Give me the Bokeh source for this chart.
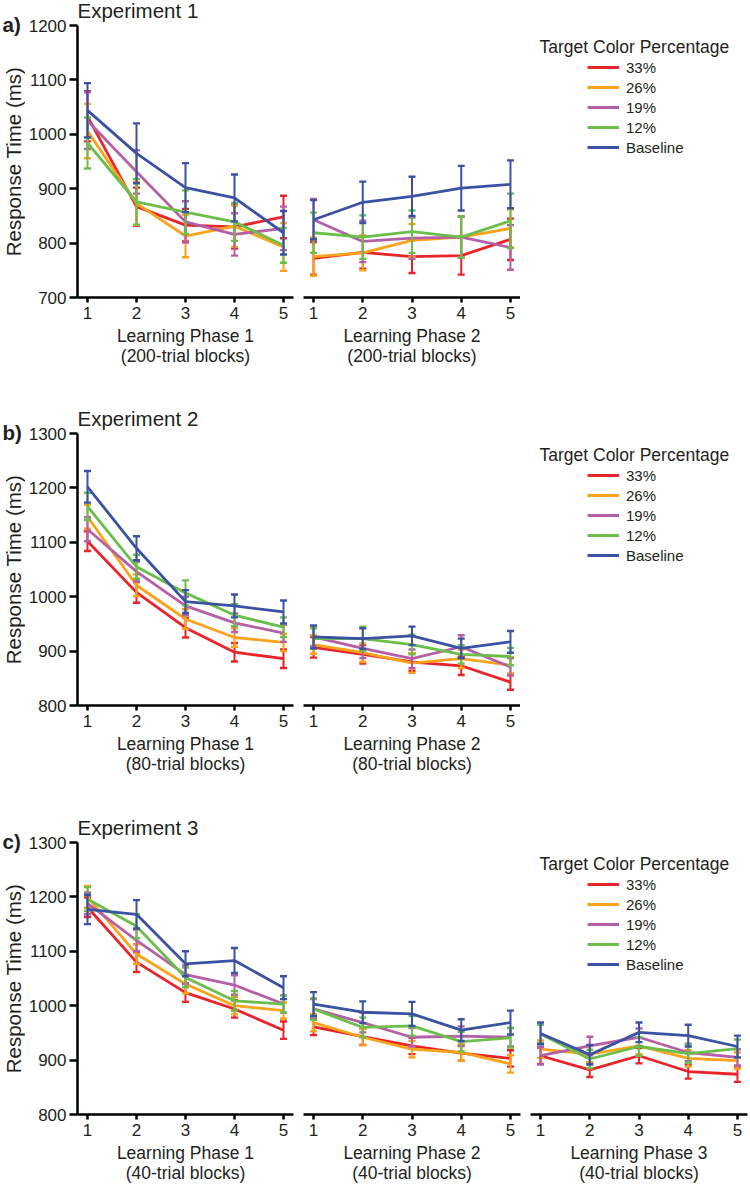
from bokeh.plotting import figure
from bokeh.models import ColumnDataSource, Range1d, Label, Legend, LegendItem, FixedTicker
from bokeh.layouts import row, column
from bokeh.embed import file_html
from bokeh.resources import INLINE

FONT = "Liberation Sans"
TXT = "#231f20"

BLOCKS = [1, 2, 3, 4, 5]
SERIES = ["33%", "26%", "19%", "12%", "Baseline"]
COLORS = ["#e8232a", "#f9a31b", "#b45fa6", "#6bbe4a", "#3b52a3"]
LEGEND_TITLE = "Target Color Percentage"
Y_LABEL = "Response Time (ms)"

# ---- Experiment 1 : Learning Phase 1 (means, ms) ----
E1_P1_33 = [1033, 867, 833, 830, 848]
E1_P1_26 = [1006, 873, 813, 831, 793]
E1_P1_19 = [1025, 931, 839, 816, 827]
E1_P1_12 = [984, 876, 857, 839, 796]
E1_P1_BL = [1044, 965, 902, 883, 819]
# standard errors
E1_P1_33_SE = [46, 35, 30, 40, 39]
E1_P1_26_SE = [50, 40, 39, 38, 44]
E1_P1_19_SE = [52, 40, 38, 39, 40]
E1_P1_12_SE = [47, 42, 40, 35, 32]
E1_P1_BL_SE = [50, 55, 45, 43, 40]

# ---- Experiment 1 : Learning Phase 2 ----
E1_P2_33 = [772, 783, 775, 777, 807]
E1_P2_26 = [775, 782, 805, 811, 827]
E1_P2_19 = [843, 803, 809, 811, 792]
E1_P2_12 = [819, 811, 821, 811, 841]
E1_P2_BL = [843, 875, 886, 901, 908]
E1_P2_33_SE = [30, 30, 30, 35, 38]
E1_P2_26_SE = [35, 32, 30, 38, 35]
E1_P2_19_SE = [38, 38, 38, 38, 41]
E1_P2_12_SE = [37, 40, 39, 38, 50]
E1_P2_BL_SE = [36, 38, 36, 41, 44]

# ---- Experiment 2 : Learning Phase 1 ----
E2_P1_33 = [1102, 1008, 943, 898, 886]
E2_P1_26 = [1147, 1021, 959, 925, 916]
E2_P1_19 = [1124, 1046, 983, 952, 933]
E2_P1_12 = [1166, 1055, 1007, 966, 944]
E2_P1_BL = [1202, 1089, 991, 983, 972]
E2_P1_33_SE = [18, 19, 18, 17, 17]
E2_P1_26_SE = [22, 20, 18, 17, 16]
E2_P1_19_SE = [22, 18, 17, 17, 16]
E2_P1_12_SE = [25, 22, 23, 20, 18]
E2_P1_BL_SE = [29, 22, 21, 21, 21]

# ---- Experiment 2 : Learning Phase 2 ----
E2_P2_33 = [907, 894, 880, 873, 843]
E2_P2_26 = [912, 897, 878, 886, 874]
E2_P2_19 = [926, 905, 886, 908, 871]
E2_P2_12 = [923, 923, 912, 894, 890]
E2_P2_BL = [926, 923, 928, 905, 917]
E2_P2_33_SE = [19, 17, 16, 17, 14]
E2_P2_26_SE = [17, 17, 18, 17, 15]
E2_P2_19_SE = [17, 18, 17, 21, 16]
E2_P2_12_SE = [19, 22, 18, 17, 16]
E2_P2_BL_SE = [21, 19, 17, 18, 20]

# ---- Experiment 3 : Learning Phase 1 ----
E3_P1_33 = [1181, 1080, 1024, 994, 955]
E3_P1_26 = [1200, 1095, 1040, 1000, 991]
E3_P1_19 = [1188, 1120, 1057, 1038, 1003]
E3_P1_12 = [1196, 1146, 1052, 1009, 1003]
E3_P1_BL = [1177, 1168, 1077, 1083, 1033]
E3_P1_33_SE = [18, 18, 17, 16, 16]
E3_P1_26_SE = [20, 18, 17, 16, 15]
E3_P1_19_SE = [20, 20, 17, 18, 16]
E3_P1_12_SE = [22, 22, 18, 18, 16]
E3_P1_BL_SE = [27, 26, 23, 23, 21]

# ---- Experiment 3 : Learning Phase 2 ----
E3_P2_33 = [961, 943, 926, 913, 903]
E3_P2_26 = [969, 942, 920, 914, 893]
E3_P2_19 = [994, 969, 942, 944, 942]
E3_P2_12 = [994, 960, 963, 934, 941]
E3_P2_BL = [1003, 988, 985, 955, 969]
E3_P2_33_SE = [15, 15, 15, 14, 15]
E3_P2_26_SE = [16, 15, 15, 15, 16]
E3_P2_19_SE = [18, 18, 17, 18, 17]
E3_P2_12_SE = [20, 18, 18, 18, 18]
E3_P2_BL_SE = [22, 20, 22, 20, 22]

# ---- Experiment 3 : Learning Phase 3 ----
E3_P3_33 = [908, 882, 908, 879, 874]
E3_P3_26 = [920, 911, 926, 903, 899]
E3_P3_19 = [908, 926, 942, 914, 905]
E3_P3_12 = [948, 902, 925, 912, 921]
E3_P3_BL = [949, 910, 951, 945, 925]
E3_P3_33_SE = [15, 13, 14, 13, 14]
E3_P3_26_SE = [16, 15, 15, 15, 15]
E3_P3_19_SE = [16, 17, 16, 16, 15]
E3_P3_12_SE = [17, 17, 17, 17, 17]
E3_P3_BL_SE = [20, 18, 18, 20, 20]

X0, X1 = 0.796, 5.204
TOP = 25                 # header band (titles) inside every frame
FRAME_H = 272            # height of the 500-ms data band
FULL_H = TOP + FRAME_H   # frame height of every plot in a row
STRIP_W = 25
LINE_W = 2.8


def add_series(p, means, ses, color):
    lower = [m - s for m, s in zip(means, ses)]
    upper = [m + s for m, s in zip(means, ses)]
    src = ColumnDataSource(dict(x=BLOCKS, y=means, lower=lower, upper=upper))
    p.segment(x0="x", y0="lower", x1="x", y1="upper", source=src,
              line_color=color, line_width=2)
    p.scatter(x="x", y="upper", source=src, marker="dash", size=7,
              line_color=color, line_width=2.4)
    p.scatter(x="x", y="lower", source=src, marker="dash", size=7,
              line_color=color, line_width=2.4)
    return p.line(x="x", y="y", source=src, line_color=color, line_width=LINE_W)


def bare(p):
    p.title = None
    p.xgrid.visible = False
    p.ygrid.visible = False
    p.outline_line_color = None


def make_panel(width, height, ylo, yhi, left, right, bottom, means, ses, xlabel,
               show_y, title=None):
    ppy = FRAME_H / (yhi - ylo)
    p = figure(width=width, height=height, x_range=Range1d(X0, X1),
               y_range=Range1d(ylo, yhi + TOP / ppy), output_backend="svg",
               toolbar_location=None, min_border_left=left,
               min_border_right=right, min_border_top=0,
               min_border_bottom=bottom,
               y_axis_location="left" if show_y else None)
    bare(p)
    xa = p.xaxis[0]
    xa.ticker = FixedTicker(ticks=BLOCKS)
    xa.minor_tick_line_color = None
    xa.major_tick_in = 0
    xa.major_tick_out = 5
    xa.major_tick_line_width = 2.5
    xa.axis_line_width = 2.5
    xa.axis_line_color = "black"
    xa.major_tick_line_color = "black"
    xa.major_label_text_font = FONT
    xa.major_label_text_font_size = "17px"
    xa.major_label_text_color = TXT
    xa.major_label_standoff = 4
    xa.axis_label = xlabel
    xa.axis_label_text_font = FONT
    xa.axis_label_text_font_size = "17.5px"
    xa.axis_label_text_font_style = "normal"
    xa.axis_label_text_color = TXT
    xa.axis_label_standoff = 4
    xa.axis_label_text_line_height = 1.0
    if show_y:
        ya = p.yaxis[0]
        ya.bounds = (ylo, yhi)
        ya.ticker = FixedTicker(ticks=list(range(ylo, yhi + 1, 100)))
        ya.minor_tick_line_color = None
        ya.major_tick_in = 0
        ya.major_tick_out = 8
        ya.major_tick_line_width = 2.5
        ya.axis_line_width = 2.5
        ya.axis_line_color = "black"
        ya.major_tick_line_color = "black"
        ya.major_label_text_font = FONT
        ya.major_label_text_font_size = "17px"
        ya.major_label_text_color = TXT
        ya.major_label_standoff = 3
    if title:
        p.add_layout(Label(x=X0, y=yhi + 15 / ppy, text=title, text_font=FONT,
                           text_font_size="20.5px", text_color=TXT,
                           text_align="left", text_baseline="middle"))
    renderers = []
    for m, s, c in zip(means, ses, COLORS):
        renderers.append(add_series(p, m, s, c))
    return p, renderers


def strip_figure(height, bottom, tag):
    """Narrow column holding the panel letter and the y-axis title."""
    p = figure(width=STRIP_W, height=height, x_range=Range1d(0, STRIP_W),
               y_range=Range1d(FULL_H, 0), output_backend="svg",
               toolbar_location=None, min_border_left=0, min_border_right=0,
               min_border_top=0, min_border_bottom=bottom,
               x_axis_location=None, y_axis_location=None)
    bare(p)
    p.add_layout(Label(x=2, y=24, text=tag, text_font=FONT,
                       text_font_size="20.5px", text_font_style="bold",
                       text_color=TXT, text_align="left", text_baseline="middle"))
    p.add_layout(Label(x=12.5, y=TOP + FRAME_H / 2, text=Y_LABEL,
                       angle=90, angle_units="deg", text_font=FONT,
                       text_font_size="20.5px", text_color=TXT,
                       text_align="center", text_baseline="middle"))
    return p


def make_legend(p, renderers, gx, title_x, title_y):
    items = [LegendItem(label=s, renderers=[r]) for s, r in zip(SERIES, renderers)]
    leg = Legend(items=items, location=(gx, FULL_H - (TOP + 32 + 100)), padding=0,
                 margin=0, spacing=0, glyph_width=32, glyph_height=20,
                 label_height=20, label_standoff=7, label_text_font=FONT,
                 label_text_font_size="15px", label_text_color=TXT,
                 border_line_color=None, background_fill_alpha=0)
    p.add_layout(leg)
    p.add_layout(Label(x=title_x, y=title_y, text=LEGEND_TITLE, text_font=FONT,
                       text_font_size="17.5px", text_color=TXT,
                       text_align="left", text_baseline="middle"))


def legend_figure(height, bottom):
    p = figure(width=230, height=height, x_range=Range1d(0, 230),
               y_range=Range1d(FULL_H, 0), output_backend="svg",
               toolbar_location=None, min_border_left=0, min_border_right=0,
               min_border_top=0, min_border_bottom=bottom,
               x_axis_location=None, y_axis_location=None)
    bare(p)
    rs = []
    for c in COLORS:
        # key-only renderers: a single missing point, so nothing is drawn in the frame
        src = ColumnDataSource(dict(x=[float("nan")], y=[float("nan")]))
        rs.append(p.line(x="x", y="y", source=src, line_color=c, line_width=LINE_W))
    make_legend(p, rs, 67, 19, TOP + 21)
    return p


A_W = 303 - STRIP_W
A_L = 77 - STRIP_W

# ---------------- Row 1 ----------------
H1, B1 = 408, 111
s1 = strip_figure(H1, B1, "a)")
a1, _ = make_panel(A_W, H1, 700, 1200, A_L, 10, B1,
                   [E1_P1_33, E1_P1_26, E1_P1_19, E1_P1_12, E1_P1_BL],
                   [E1_P1_33_SE, E1_P1_26_SE, E1_P1_19_SE, E1_P1_12_SE, E1_P1_BL_SE],
                   "Learning Phase 1\n(200-trial blocks)", True, "Experiment 1")
b1, _ = make_panel(217, H1, 700, 1200, 0, 0, B1,
                   [E1_P2_33, E1_P2_26, E1_P2_19, E1_P2_12, E1_P2_BL],
                   [E1_P2_33_SE, E1_P2_26_SE, E1_P2_19_SE, E1_P2_12_SE, E1_P2_BL_SE],
                   "Learning Phase 2\n(200-trial blocks)", False)
l1 = legend_figure(H1, B1)

# ---------------- Row 2 ----------------
H2, B2 = 409, 112
s2 = strip_figure(H2, B2, "b)")
a2, _ = make_panel(A_W, H2, 800, 1300, A_L, 10, B2,
                   [E2_P1_33, E2_P1_26, E2_P1_19, E2_P1_12, E2_P1_BL],
                   [E2_P1_33_SE, E2_P1_26_SE, E2_P1_19_SE, E2_P1_12_SE, E2_P1_BL_SE],
                   "Learning Phase 1\n(80-trial blocks)", True, "Experiment 2")
b2, _ = make_panel(217, H2, 800, 1300, 0, 0, B2,
                   [E2_P2_33, E2_P2_26, E2_P2_19, E2_P2_12, E2_P2_BL],
                   [E2_P2_33_SE, E2_P2_26_SE, E2_P2_19_SE, E2_P2_12_SE, E2_P2_BL_SE],
                   "Learning Phase 2\n(80-trial blocks)", False)
l2 = legend_figure(H2, B2)

# ---------------- Row 3 ----------------
H3, B3 = 369, 72
s3 = strip_figure(H3, B3, "c)")
a3, _ = make_panel(A_W, H3, 800, 1300, A_L, 10, B3,
                   [E3_P1_33, E3_P1_26, E3_P1_19, E3_P1_12, E3_P1_BL],
                   [E3_P1_33_SE, E3_P1_26_SE, E3_P1_19_SE, E3_P1_12_SE, E3_P1_BL_SE],
                   "Learning Phase 1\n(40-trial blocks)", True, "Experiment 3")
b3, _ = make_panel(227, H3, 800, 1300, 0, 10, B3,
                   [E3_P2_33, E3_P2_26, E3_P2_19, E3_P2_12, E3_P2_BL],
                   [E3_P2_33_SE, E3_P2_26_SE, E3_P2_19_SE, E3_P2_12_SE, E3_P2_BL_SE],
                   "Learning Phase 2\n(40-trial blocks)", False)
c3, c3_rs = make_panel(220, H3, 800, 1300, 0, 3, B3,
                       [E3_P3_33, E3_P3_26, E3_P3_19, E3_P3_12, E3_P3_BL],
                       [E3_P3_33_SE, E3_P3_26_SE, E3_P3_19_SE, E3_P3_12_SE, E3_P3_BL_SE],
                       "Learning Phase 3\n(40-trial blocks)", False)
ppx_c = (220 - 3) / (X1 - X0)
ppy_c = FRAME_H / 500
make_legend(c3, c3_rs, 57, X0 + 9 / ppx_c, 1300 - 21 / ppy_c)

layout = column(row(s1, a1, b1, l1, spacing=0),
                row(s2, a2, b2, l2, spacing=0),
                row(s3, a3, b3, c3, spacing=0), spacing=0)

open("out.html", "w").write(file_html(layout, INLINE))
